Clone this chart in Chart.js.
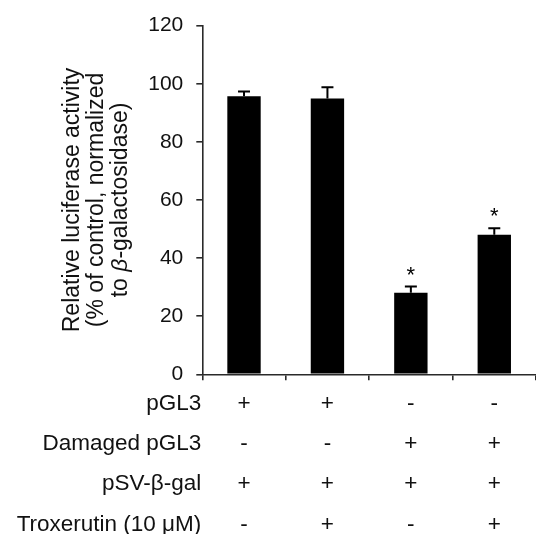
<!DOCTYPE html>
<html>
<head>
<meta charset="utf-8">
<script src="https://cdn.jsdelivr.net/npm/chart.js@4.4.1/dist/chart.umd.min.js"></script>
<style>
  html, body { margin: 0; padding: 0; background: #fff; }
  #wrap { width: 536px; height: 534px; }
</style>
</head>
<body>
<div id="wrap"><canvas id="c" width="536" height="534"></canvas></div>
<script>
// ---- data ----
const categories = ['pGL3', 'pGL3 + Troxerutin', 'Damaged pGL3', 'Damaged pGL3 + Troxerutin'];
const meanValues = [95.7, 94.9, 28.1, 48.0];
const errorValues = [1.6, 3.9, 2.1, 2.3];
const significant = [false, false, true, true];
const yMin = 0, yMax = 120, yStep = 20;
const yTitleLines = ['Relative luciferase activity', '(% of control, normalized'];
const yTitleLast = ['to ', 'β', '-galactosidase)'];
const rowLabels = ['pGL3', 'Damaged pGL3', 'pSV-β-gal', 'Troxerutin (10 μM)'];
const rowSigns = [
  ['+', '+', '-', '-'],
  ['-', '-', '+', '+'],
  ['+', '+', '+', '+'],
  ['-', '+', '-', '+']
];

const FONT = '"Liberation Sans", Arial, Helvetica, sans-serif';
const AXIS = '#2a2a2a';

const extras = {
  id: 'extras',
  afterDatasetsDraw(chart) {
    const { ctx, scales: { x, y } } = chart;
    ctx.save();
    // error bars
    ctx.strokeStyle = '#000';
    ctx.fillStyle = '#000';
    ctx.lineWidth = 2;
    meanValues.forEach((v, i) => {
      const cx = x.getPixelForValue(i);
      const yTop = y.getPixelForValue(v + errorValues[i]);
      const yMid = y.getPixelForValue(v);
      ctx.beginPath();
      ctx.moveTo(cx, yMid);
      ctx.lineTo(cx, yTop);
      ctx.moveTo(cx - 6, yTop);
      ctx.lineTo(cx + 6, yTop);
      ctx.stroke();
      if (significant[i]) {
        ctx.font = '22px ' + FONT;
        ctx.textAlign = 'center';
        ctx.textBaseline = 'alphabetic';
        ctx.fillText('*', cx, yTop - 5);
      }
    });
    ctx.restore();
  },
  afterDraw(chart) {
    const { ctx, scales: { x, y } } = chart;
    ctx.save();
    ctx.fillStyle = '#111';
    // table below x axis
    ctx.font = '22.5px ' + FONT;
    ctx.textBaseline = 'alphabetic';
    rowLabels.forEach((lab, r) => {
      const by = y.bottom + 35.5 + r * 40.3;
      ctx.textAlign = 'right';
      ctx.fillText(lab, x.left - 1, by);
      ctx.textAlign = 'center';
      rowSigns[r].forEach((s, i) => {
        ctx.fillText(s, x.getPixelForValue(i), by);
      });
    });
    // y title (rotated, with italic beta)
    const cy = (y.top + y.bottom) / 2;
    ctx.translate(0, cy);
    ctx.rotate(-Math.PI / 2);
    const baselines = [78.5, 103, 127];
    ctx.font = '23px ' + FONT;
    ctx.textAlign = 'center';
    yTitleLines.forEach((t, k) => ctx.fillText(t, 0, baselines[k]));
    ctx.textAlign = 'left';
    const fonts = ['23px ' + FONT, 'italic 23px ' + FONT, '23px ' + FONT];
    const widths = yTitleLast.map((t, k) => { ctx.font = fonts[k]; return ctx.measureText(t).width; });
    let sx = -widths.reduce((a, b) => a + b, 0) / 2;
    yTitleLast.forEach((t, k) => {
      ctx.font = fonts[k];
      ctx.fillText(t, sx, baselines[2]);
      sx += widths[k];
    });
    ctx.restore();
  }
};

new Chart(document.getElementById('c'), {
  type: 'bar',
  data: {
    labels: categories,
    datasets: [{
      data: meanValues,
      backgroundColor: '#000',
      borderWidth: 0,
      barPercentage: 0.4,
      categoryPercentage: 1.0
    }]
  },
  options: {
    responsive: false,
    animation: false,
    devicePixelRatio: 1,
    layout: { padding: { top: 21.5, left: 0, right: 0, bottom: 0 } },
    plugins: { legend: { display: false }, tooltip: { enabled: false } },
    scales: {
      x: {
        offset: true,
        grid: { display: true, offset: true, drawOnChartArea: false, drawTicks: true, tickLength: 6, color: AXIS, lineWidth: 1.6 },
        border: { display: true, color: AXIS, width: 1.6 },
        ticks: { display: false },
        afterFit(scale) { scale.height = 159.7; }
      },
      y: {
        min: yMin,
        max: yMax,
        grid: { display: true, drawOnChartArea: false, drawTicks: true, tickLength: 6, color: AXIS, lineWidth: 1.6 },
        border: { display: true, color: AXIS, width: 1.6 },
        ticks: { stepSize: yStep, padding: 13, color: '#111', font: { family: FONT, size: 21 } },
        afterFit(scale) { scale.width = 202.3; }
      }
    }
  },
  plugins: [extras]
});
</script>
</body>
</html>
